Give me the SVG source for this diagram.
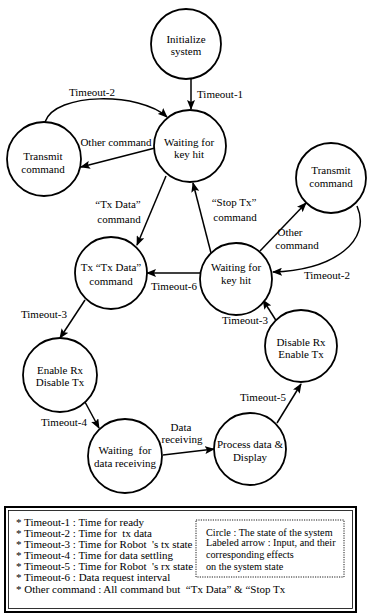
<svg xmlns="http://www.w3.org/2000/svg" width="367" height="615" viewBox="0 0 367 615">
<style>
  .st { fill: #fff; stroke: #000; stroke-width: 1.8; }
  .t { font-family: "Liberation Serif", "Times New Roman", serif; font-size: 11px; fill: #000; text-anchor: middle; }
  .l { font-family: "Liberation Serif", "Times New Roman", serif; font-size: 11px; fill: #000; }
  .lg { font-family: "Liberation Serif", "Times New Roman", serif; font-size: 11px; fill: #000; white-space: pre; }
  .lb { font-family: "Liberation Serif", "Times New Roman", serif; font-size: 10.2px; fill: #000; white-space: pre; }
  .c { fill: none; stroke: #000; stroke-width: 1.5; marker-end: url(#ah); }
</style>
<defs>
  <marker id="ah" markerUnits="userSpaceOnUse" markerWidth="10" markerHeight="8" refX="9" refY="4" orient="auto">
    <path d="M0,0 L10,4 L0,8 L2,4 z" fill="#000"/>
  </marker>
</defs>
<rect width="367" height="615" fill="#fff"/>

<g id="connectors">
  <line class="c" x1="191" y1="79" x2="191" y2="109"/>
  <text class="l" x="197" y="98">Timeout-1</text>

  <path class="c" d="M45 122 C55 92, 140 92, 167 117"/>
  <text class="t" x="92" y="96">Timeout-2</text>

  <line class="c" x1="155" y1="148" x2="81" y2="167"/>
  <text class="t" x="116" y="146">Other command</text>

  <line class="c" x1="166" y1="176" x2="137" y2="245"/>
  <text class="t" x="118" y="208">“Tx Data”</text>
  <text class="t" x="119" y="223">command</text>

  <line class="c" x1="211" y1="253" x2="193" y2="183"/>
  <text class="t" x="234" y="206">“Stop Tx”</text>
  <text class="t" x="235" y="221">command</text>

  <line class="c" x1="200" y1="273" x2="147" y2="273"/>
  <text class="t" x="174" y="290">Timeout-6</text>

  <line class="c" x1="260" y1="251" x2="306" y2="203"/>
  <text class="t" x="290" y="236">Other</text>
  <text class="t" x="297" y="249">command</text>

  <path class="c" d="M357 206 C372 240, 335 270, 273 272"/>
  <text class="t" x="327" y="279">Timeout-2</text>

  <line class="c" x1="277" y1="322" x2="263" y2="300"/>
  <text class="t" x="245" y="324">Timeout-3</text>

  <line class="c" x1="85" y1="300" x2="60" y2="338"/>
  <text class="t" x="44" y="318">Timeout-3</text>

  <line class="c" x1="85" y1="402" x2="99" y2="428"/>
  <text class="t" x="64" y="426">Timeout-4</text>

  <line class="c" x1="163" y1="455" x2="214" y2="449"/>
  <text class="t" x="181" y="431">Data</text>
  <text class="t" x="182" y="443">receiving</text>

  <line class="c" x1="277" y1="423" x2="301" y2="384"/>
  <text class="t" x="263" y="401">Timeout-5</text>
</g>

<g id="init">
  <circle class="st" cx="186" cy="44" r="35"/>
  <text class="t" x="186" y="43">Initialize</text>
  <text class="t" x="186" y="55">system</text>
</g>
<g id="wait-top">
  <circle class="st" cx="190" cy="146" r="36"/>
  <text class="t" x="189" y="146">Waiting for</text>
  <text class="t" x="189" y="158">key hit</text>
</g>
<g id="transmit-left">
  <circle class="st" cx="44" cy="159" r="37"/>
  <text class="t" x="43" y="160">Transmit</text>
  <text class="t" x="43" y="173">command</text>
</g>
<g id="transmit-right">
  <circle class="st" cx="331" cy="178" r="35"/>
  <text class="t" x="331" y="174">Transmit</text>
  <text class="t" x="331" y="187">command</text>
</g>
<g id="tx-data">
  <circle class="st" cx="111" cy="273" r="36"/>
  <text class="t" x="111" y="271">Tx “Tx Data”</text>
  <text class="t" x="111" y="285">command</text>
</g>
<g id="wait-mid">
  <circle class="st" cx="236" cy="279" r="36"/>
  <text class="t" x="236" y="271">Waiting for</text>
  <text class="t" x="236" y="284">key hit</text>
</g>
<g id="disable-rx">
  <circle class="st" cx="301" cy="346" r="36"/>
  <text class="t" x="301" y="346">Disable Rx</text>
  <text class="t" x="301" y="358">Enable Tx</text>
</g>
<g id="enable-rx">
  <circle class="st" cx="60" cy="375" r="37"/>
  <text class="t" x="60" y="374">Enable Rx</text>
  <text class="t" x="60" y="386">Disable Tx</text>
</g>
<g id="wait-data">
  <circle class="st" cx="125" cy="456" r="37"/>
  <text class="t" x="125" y="454" style="white-space:pre">Waiting  for</text>
  <text class="t" x="125" y="467">data receiving</text>
</g>
<g id="process">
  <circle class="st" cx="250" cy="449" r="36"/>
  <text class="t" x="250" y="448">Process data &amp;</text>
  <text class="t" x="250" y="461">Display</text>
</g>

<g id="legend">
  <rect x="5" y="507" width="351" height="105" fill="none" stroke="#000" stroke-width="2"/>
  <rect x="8.5" y="510.5" width="344" height="98" fill="none" stroke="#000" stroke-width="0.8"/>
  <text class="lg" x="16" y="526">* Timeout-1 : Time for ready</text>
  <text class="lg" x="16" y="537">* Timeout-2 : Time for  tx data</text>
  <text class="lg" x="16" y="548">* Timeout-3 : Time for Robot  's tx state</text>
  <text class="lg" x="16" y="559">* Timeout-4 : Time for data settling</text>
  <text class="lg" x="16" y="570">* Timeout-5 : Time for Robot  's rx state</text>
  <text class="lg" x="16" y="581">* Timeout-6 : Data request interval</text>
  <text class="lg" x="16" y="592.5">* Other command : All command but  “Tx Data” &amp; “Stop Tx</text>
  <rect x="196" y="520" width="148" height="57" fill="none" stroke="#000" stroke-width="0.9" stroke-dasharray="1.2,1.2"/>
  <text class="lb" x="206" y="536">Circle : The state of the system</text>
  <text class="lb" x="206" y="546">Labeled arrow : Input, and their</text>
  <text class="lb" x="206" y="557.5">corresponding effects</text>
  <text class="lb" x="206" y="569.5">on the system state</text>
</g>
</svg>
